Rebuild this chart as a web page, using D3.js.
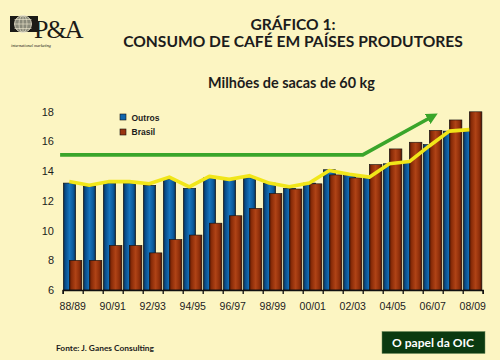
<!DOCTYPE html>
<html><head><meta charset="utf-8">
<script src="https://cdn.jsdelivr.net/npm/d3@7/dist/d3.min.js"></script>
<style>html,body{margin:0;padding:0;background:#fcf5c2;}svg{display:block;}</style>
</head><body>
<svg id="c" width="500" height="360"></svg>
<script>
const categories = ["88/89","89/90","90/91","91/92","92/93","93/94","94/95","95/96","96/97","97/98","98/99","99/00","00/01","01/02","02/03","03/04","04/05","05/06","06/07","07/08","08/09"];
const outros = [13.2,13.0,13.2,13.2,13.05,13.45,12.85,13.55,13.4,13.55,13.2,12.85,13.2,14.1,13.7,13.55,14.5,14.65,15.8,16.7,16.7];
const brasil = [8.0,8.0,9.0,9.0,8.5,9.4,9.7,10.5,11.0,11.5,12.5,12.8,13.15,13.75,13.55,14.45,15.5,15.95,16.75,17.45,18.0];
const trend = [13.3,13.05,13.3,13.3,13.15,13.6,12.95,13.65,13.45,13.7,13.2,12.95,13.2,14.05,13.8,13.6,14.5,14.65,15.7,16.7,16.8];
// green reference line: [position in category units, value]
const greenPos = [-0.13, 15.0, 18.5];
const greenVal = [15.1, 15.1, 17.7];
const yTicks = [6,8,10,12,14,16,18];
const xTickLabels = categories.filter((d,i)=>i%2===0);
const seriesNames = ["Outros","Brasil"];
const titleLines = ["GRÁFICO 1:","CONSUMO DE CAFÉ EM PAÍSES PRODUTORES"];
const subtitle = "Milhões de sacas de 60 kg";
const source = "Fonte: J. Ganes Consulting";
const buttonText = "O papel da OIC";

const svg = d3.select("#c");
const W=500,H=360;
const x = d3.scaleBand().domain(categories).range([62.7,482.7]).paddingInner(0).paddingOuter(0);
const xc = d3.scaleLinear().domain([0,categories.length]).range([62.7,482.7]);
const y = d3.scaleLinear().domain([6,18]).range([290,111.8]);
const bw = x.bandwidth();

const defs = svg.append("defs");
function grad(id, stops){
  const g = defs.append("linearGradient").attr("id",id).attr("x1","0").attr("x2","1").attr("y1","0").attr("y2","0");
  stops.forEach(s=>g.append("stop").attr("offset",s[0]).attr("stop-color",s[1]));
}
grad("gBlue",[[0,"#06294a"],[0.18,"#0a4f8c"],[0.5,"#1775bd"],[0.8,"#0b5a9c"],[1,"#062b4d"]]);
grad("gBrown",[[0,"#4a1304"],[0.18,"#8a2c08"],[0.5,"#b04316"],[0.8,"#8e2e0a"],[1,"#4a1304"]]);
defs.append("marker").attr("id","arr").attr("viewBox","0 0 10 10").attr("refX",5).attr("refY",5)
  .attr("markerWidth",3.2).attr("markerHeight",3.2).attr("orient","auto").attr("markerUnits","strokeWidth")
  .append("path").attr("d","M0,0 L10,5 L0,10 Z").attr("fill","#3aa52a");

svg.append("rect").attr("width",W).attr("height",H).attr("fill","#fcf5c2");

// Logo
const logo = svg.append("g");
logo.append("rect").attr("x",10).attr("y",16).attr("width",28).attr("height",16).attr("fill","#1b1b16");
logo.append("circle").attr("cx",23).attr("cy",24).attr("r",8.5).attr("fill","#8a8a7a").attr("stroke","#f0ead0").attr("stroke-width",0.8);
[-5,0,5].forEach(o=>logo.append("line").attr("x1",14.5).attr("x2",31.5).attr("y1",24+o*0.9).attr("y2",24+o*0.9).attr("stroke","#f0ead0").attr("stroke-width",0.6));
logo.append("ellipse").attr("cx",23).attr("cy",24).attr("rx",4).attr("ry",8.5).attr("fill","none").attr("stroke","#f0ead0").attr("stroke-width",0.6);
logo.append("line").attr("x1",23).attr("x2",23).attr("y1",15.5).attr("y2",32.5).attr("stroke","#f0ead0").attr("stroke-width",0.6);
logo.append("text").attr("x",34).attr("y",37.5).attr("font-family","Liberation Serif, DejaVu Serif, serif").attr("font-size",26).attr("fill","#1b1b16").attr("letter-spacing",-2).text("P&A");
logo.append("text").attr("x",11).attr("y",47).attr("font-family","Liberation Serif, serif").attr("font-style","italic").attr("font-size",4.2).attr("fill","#1b1b16").text("international marketing");

// Titles with width fitting
function fitText(sel, targetW){
  const node = sel.node();
  let fs = +sel.attr("font-size");
  const w = node.getComputedTextLength();
  sel.attr("font-size", fs*targetW/w);
  return fs*targetW/w;
}
const tf = "Lato, 'Open Sans', sans-serif";
const t2 = svg.append("text").attr("x",293).attr("y",47).attr("text-anchor","middle").attr("font-family",tf).attr("font-weight",700).attr("font-size",14).attr("fill","#1c1c1c").text(titleLines[1]);
const tfs = fitText(t2,340);
svg.append("text").attr("x",293).attr("y",29.5).attr("text-anchor","middle").attr("font-family",tf).attr("font-weight",700).attr("font-size",tfs).attr("fill","#1c1c1c").text(titleLines[0]);
const st = svg.append("text").attr("x",291.5).attr("y",87.5).attr("text-anchor","middle").attr("font-family",tf).attr("font-weight",700).attr("font-size",12).attr("fill","#1c1c1c").text(subtitle);
fitText(st,167);

// Y tick labels
svg.append("g").selectAll("text").data(yTicks).join("text")
  .attr("x",54).attr("y",d=>y(d)).attr("dy","0.36em").attr("text-anchor","end")
  .attr("font-family","Liberation Sans, Arial, sans-serif").attr("font-size",11).attr("fill","#1c1c1c").text(d=>d);

// Bars
const gb = svg.append("g");
gb.selectAll("rect.o").data(outros).join("rect").attr("class","o")
  .attr("x",(d,i)=>x(categories[i])+0.03*bw).attr("width",0.62*bw)
  .attr("y",d=>y(d)).attr("height",d=>y(6)-y(d))
  .attr("fill","url(#gBlue)").attr("stroke","#111").attr("stroke-width",0.6);
gb.selectAll("rect.b").data(brasil).join("rect").attr("class","b")
  .attr("x",(d,i)=>x(categories[i])+0.33*bw).attr("width",0.63*bw)
  .attr("y",d=>y(d)).attr("height",d=>y(6)-y(d))
  .attr("fill","url(#gBrown)").attr("stroke","#111").attr("stroke-width",0.6);

// Yellow trend line
svg.append("path").datum(trend)
  .attr("d",d3.line().x((d,i)=>x(categories[i])+0.33*bw).y(d=>y(d)))
  .attr("fill","none").attr("stroke","#f1e619").attr("stroke-width",3.6).attr("stroke-linejoin","round");

// Green line with arrow
svg.append("path").datum(greenPos.map((p,i)=>[p,greenVal[i]]))
  .attr("d",d3.line().x(d=>xc(d[0])).y(d=>y(d[1])))
  .attr("fill","none").attr("stroke","#3aa52a").attr("stroke-width",3.6).attr("marker-end","url(#arr)");

// X axis
const xAxis = d3.axisBottom(xc).tickValues(d3.range(0,categories.length+1)).tickSize(4).tickFormat("");
const ax = svg.append("g").attr("transform",`translate(0,${y(6)})`).call(xAxis);
ax.select(".domain").attr("stroke","#111").attr("stroke-width",1.4);
ax.selectAll(".tick line").attr("stroke","#111").attr("stroke-width",1.3);
svg.append("g").selectAll("text").data(xTickLabels).join("text")
  .attr("x",d=>x(d)+bw/2).attr("y",309.5).attr("text-anchor","middle")
  .attr("font-family","Liberation Sans, Arial, sans-serif").attr("font-size",10.5).attr("fill","#1c1c1c").text(d=>d);

// Legend
const lg = svg.append("g");
seriesNames.forEach((n,i)=>{
  lg.append("rect").attr("x",120).attr("y",114+i*15).attr("width",6).attr("height",6).attr("fill",i? "#9a3410":"#0f66ad").attr("stroke","#111").attr("stroke-width",0.6);
  lg.append("text").attr("x",131.5).attr("y",120.5+i*14.5).attr("font-family","Liberation Sans, Arial, sans-serif").attr("font-weight",700).attr("font-size",8.5).attr("fill","#1c1c1c").text(n);
});

// Footer
const src = svg.append("text").attr("x",56).attr("y",351).attr("font-family",tf).attr("font-weight",700).attr("font-size",9).attr("fill","#1c1c1c").text(source);
fitText(src,98);
svg.append("rect").attr("x",382).attr("y",331.5).attr("width",103).attr("height",22).attr("fill","#0b3a10").attr("stroke","#6b8a5a").attr("stroke-width",0.5);
const bt = svg.append("text").attr("x",433).attr("y",347).attr("text-anchor","middle").attr("font-family",tf).attr("font-weight",700).attr("font-size",12).attr("fill","#ffffff").text(buttonText);
fitText(bt,82);
</script>
</body></html>
